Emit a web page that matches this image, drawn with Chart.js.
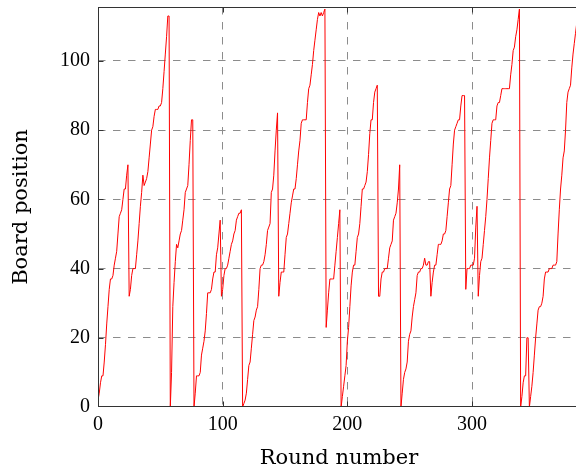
<!DOCTYPE html>
<html>
<head>
<meta charset="utf-8">
<script src="https://cdn.jsdelivr.net/npm/chart.js@4/dist/chart.umd.min.js"></script>
<style>
  html, body { margin: 0; padding: 0; background: #fff; overflow: hidden; width: 576px; height: 472px; }
  #wrap { position: absolute; left: 0; top: 0; width: 586px; height: 472px; }
</style>
</head>
<body>
<div id="wrap"><canvas id="c" width="586" height="472"></canvas></div>
<script>
// Board position per round (round = index)
const positions = [
  2, 4, 7, 9, 9, 13, 18, 24, 29, 34,
  37, 37, 38, 41, 43, 45, 50, 55, 56, 57,
  60, 63, 63, 67, 70, 32, 34, 38, 40, 40,
  40, 44, 48, 53, 58, 62, 67, 64, 65, 66,
  68, 72, 76, 80, 81, 84, 86, 86, 86, 87,
  87, 88, 92, 97, 102, 107, 113, 113, 0, 10,
  29, 36, 42, 47, 46, 48, 50, 51, 54, 57,
  62, 63, 64, 70, 77, 83, 83, 0, 4, 9,
  9, 9, 10, 15, 17, 19, 22, 27, 33, 33,
  33, 34, 37, 39, 39, 44, 46, 50, 54, 32,
  34, 38, 40, 40, 41, 43, 45, 47, 48, 50,
  51, 54, 55, 56, 56, 57, 0, 1, 2, 4,
  8, 12, 13, 17, 21, 25, 26, 28, 29, 34,
  40, 41, 41, 42, 44, 47, 51, 52, 53, 62,
  63, 67, 74, 80, 85, 32, 36, 39, 39, 39,
  44, 49, 50, 53, 56, 59, 61, 63, 63, 66,
  70, 74, 77, 82, 83, 83, 83, 83, 88, 92,
  93, 96, 99, 103, 106, 109, 112, 114, 113, 114,
  113, 114, 115, 23, 28, 33, 37, 37, 37, 37,
  41, 45, 49, 53, 57, 0, 3, 6, 9, 12,
  19, 23, 29, 35, 39, 41, 41, 45, 49, 50,
  53, 58, 63, 63, 64, 65, 68, 73, 79, 83,
  83, 88, 91, 92, 93, 32, 32, 37, 39, 39,
  40, 40, 40, 43, 46, 47, 48, 54, 55, 56,
  59, 63, 70, 0, 4, 8, 10, 11, 13, 19,
  21, 22, 26, 29, 31, 33, 38, 39, 39, 40,
  40, 41, 43, 41, 41, 42, 42, 32, 36, 39,
  41, 41, 44, 47, 47, 47, 48, 50, 50, 51,
  55, 59, 63, 64, 70, 76, 80, 81, 82, 83,
  83, 87, 90, 90, 90, 34, 40, 40, 40, 41,
  41, 41, 43, 52, 58, 32, 38, 42, 43, 47,
  51, 55, 60, 66, 72, 77, 82, 83, 83, 83,
  87, 88, 88, 90, 92, 92, 92, 92, 92, 92,
  92, 96, 99, 103, 104, 107, 109, 112, 115, 0,
  3, 7, 9, 9, 20, 20, 0, 3, 6, 10,
  15, 20, 24, 28, 29, 29, 30, 32, 37, 39,
  39, 39, 40, 40, 40, 41, 41, 41, 42, 50,
  57, 63, 67, 72, 74, 80, 88, 91, 92, 93,
  98, 102, 105, 108, 111
];
const xTicks = [0, 100, 200, 300];
const yTicks = [0, 20, 40, 60, 80, 100];
const xTitle = 'Round number';
const yTitle = 'Board position';

const points = positions.map((v, i) => ({ x: i, y: v }));

const gridColor = (c) => (c.tick && c.tick.value === 0) ? 'rgba(0,0,0,0)' : '#8c8c8c';

const framePlugin = {
  id: 'frame',
  afterDatasetsDraw(chart) {
    const { ctx, chartArea: a, scales: { x, y } } = chart;
    const L = Math.round(a.left) + 0.5, R = Math.round(a.right) + 0.5;
    const T = Math.round(a.top) + 0.5, B = Math.round(a.bottom) - 0.5;
    ctx.save();
    ctx.strokeStyle = '#333333';
    ctx.lineWidth = 1;
    ctx.strokeRect(L, T, R - L, B - T);
    ctx.beginPath();
    xTicks.forEach(v => {
      if (v === 0) return;
      const px = Math.round(x.getPixelForValue(v)) + 0.5;
      ctx.moveTo(px, B); ctx.lineTo(px, B - 5);
      ctx.moveTo(px, T); ctx.lineTo(px, T + 5);
    });
    yTicks.forEach(v => {
      if (v === 0) return;
      const py = Math.round(y.getPixelForValue(v)) + 0.5;
      ctx.moveTo(L, py); ctx.lineTo(L + 5, py);
    });
    ctx.stroke();
    ctx.restore();
  }
};

new Chart(document.getElementById('c'), {
  type: 'line',
  data: {
    datasets: [{
      data: points,
      borderColor: '#ff0000',
      borderWidth: 1,
      pointRadius: 0,
      tension: 0,
      fill: false
    }]
  },
  options: {
    responsive: false,
    animation: false,
    devicePixelRatio: 1,
    layout: { padding: { top: 7, right: 6, left: 0, bottom: 0 } },
    plugins: { legend: { display: false }, tooltip: { enabled: false } },
    scales: {
      x: {
        type: 'linear',
        min: 0,
        max: 386.6,
        afterBuildTicks: (s) => { s.ticks = xTicks.map(v => ({ value: v })); },
        afterFit: (s) => { s.height = 65; s.paddingLeft = 0; s.paddingRight = 0; },
        grid: { color: gridColor, lineWidth: 1, drawTicks: false },
        border: { display: false, dash: [7.5, 7.5] },
        ticks: {
          padding: 6,
          color: '#000',
          font: { family: 'Liberation Serif', size: 20 },
          maxRotation: 0,
          callback: (v) => String(v)
        },
        title: {
          display: true,
          text: xTitle,
          color: '#000',
          font: { family: 'DejaVu Serif', size: 21 },
          padding: { top: 0, bottom: 1 }
        }
      },
      y: {
        type: 'linear',
        min: 0,
        max: 115.6,
        afterBuildTicks: (s) => { s.ticks = yTicks.map(v => ({ value: v })); },
        afterFit: (s) => { s.width = 98; s.paddingTop = 0; s.paddingBottom = 0; },
        grid: { color: gridColor, lineWidth: 1, drawTicks: false },
        border: { display: false, dash: [7.5, 7.5] },
        ticks: {
          padding: 8,
          color: '#000',
          font: { family: 'Liberation Serif', size: 20 },
          callback: (v) => String(v)
        },
        title: {
          display: true,
          text: yTitle,
          color: '#000',
          font: { family: 'DejaVu Serif', size: 21 },
          padding: { top: 9, bottom: 0 }
        }
      }
    }
  },
  plugins: [framePlugin]
});
</script>
</body>
</html>
